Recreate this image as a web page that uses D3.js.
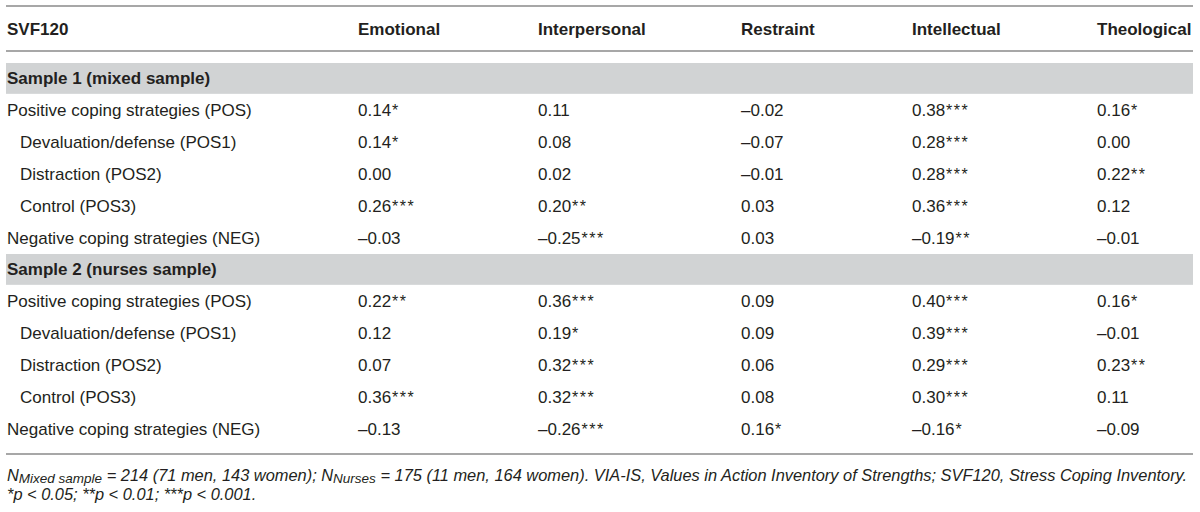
<!DOCTYPE html>
<html lang="en">
  <head>
    <meta charset="utf-8">
    <title>VIA-IS vs SVF120</title>
    <style>
      body { margin: 0; background: #fff; }
      svg text { font-family: "Liberation Sans", Arial, sans-serif; fill: #231f20; }
    </style>
  </head>
  <body>
    <svg class="table"></svg>

    <script src="https://d3js.org/d3.v7.min.js"></script>
    <script type="text/javascript">
      var columns = ["Emotional", "Interpersonal", "Restraint", "Intellectual", "Theological"];
      var rowLabels = ["Positive coping strategies (POS)", "Devaluation/defense (POS1)",
                       "Distraction (POS2)", "Control (POS3)", "Negative coping strategies (NEG)"];
      var indented = [false, true, true, true, false];
      var sampleNames = ["Sample 1 (mixed sample)", "Sample 2 (nurses sample)"];

      var sample1 = [
        [0.14, 0.11, -0.02, 0.38, 0.16],
        [0.14, 0.08, -0.07, 0.28, 0.00],
        [0.00, 0.02, -0.01, 0.28, 0.22],
        [0.26, 0.20, 0.03, 0.36, 0.12],
        [-0.03, -0.25, 0.03, -0.19, -0.01]
      ];
      var stars1 = [
        [1, 0, 0, 3, 1],
        [1, 0, 0, 3, 0],
        [0, 0, 0, 3, 2],
        [3, 2, 0, 3, 0],
        [0, 3, 0, 2, 0]
      ];
      var sample2 = [
        [0.22, 0.36, 0.09, 0.40, 0.16],
        [0.12, 0.19, 0.09, 0.39, -0.01],
        [0.07, 0.32, 0.06, 0.29, 0.23],
        [0.36, 0.32, 0.08, 0.30, 0.11],
        [-0.13, -0.26, 0.16, -0.16, -0.09]
      ];
      var stars2 = [
        [2, 3, 0, 3, 1],
        [0, 1, 0, 3, 0],
        [0, 3, 0, 3, 2],
        [3, 3, 0, 3, 0],
        [0, 3, 1, 1, 0]
      ];

      var w = 1200;
      var h = 512;
      var left = 6;
      var right = 1193;

      var svg = d3.select('.table')
                  .attr('width', w)
                  .attr('height', h);

      var fmt = d3.formatLocale({
        decimal: ".", thousands: ",", grouping: [3],
        currency: ["", ""], minus: "\u2013"
      }).format(".2f");

      // build row list: band, 5 rows, band, 5 rows
      var rows = [];
      [[sample1, stars1], [sample2, stars2]].forEach(function(s, si) {
        rows.push({ type: 'band', label: sampleNames[si] });
        s[0].forEach(function(vals, ri) {
          rows.push({ type: 'row', label: rowLabels[ri], indent: indented[ri],
                      vals: vals, stars: s[1][ri] });
        });
      });

      var y = d3.scaleBand()
                .domain(d3.range(rows.length))
                .range([62, 444]);

      var x = d3.scaleOrdinal()
                .domain(columns)
                .range([358, 538, 741, 912, 1097]);

      function hline(yy) {
        svg.append('line')
           .attr('x1', left).attr('x2', right)
           .attr('y1', yy).attr('y2', yy)
           .attr('stroke', '#8a8a8a')
           .attr('stroke-width', 1.6);
      }

      hline(6);
      hline(51);
      hline(454);

      // header
      svg.append('text')
         .attr('x', 7).attr('y', 35)
         .attr('font-size', 17).attr('font-weight', 'bold')
         .text('SVF120');

      svg.selectAll('text.col')
         .data(columns)
         .enter()
         .append('text')
         .attr('class', 'col')
         .attr('x', function(d) { return x(d); })
         .attr('y', 35)
         .attr('font-size', 17).attr('font-weight', 'bold')
         .text(function(d) { return d; });

      var g = svg.selectAll('g.row')
                 .data(rows)
                 .enter()
                 .append('g')
                 .attr('class', 'row')
                 .attr('transform', function(d, i) { return 'translate(0,' + y(i) + ')'; });

      g.filter(function(d) { return d.type === 'band'; })
       .append('rect')
       .attr('x', left).attr('y', 1)
       .attr('width', right - left)
       .attr('height', y.bandwidth() - 1)
       .attr('fill', '#d1d3d4');

      g.append('text')
       .attr('x', function(d) { return d.indent ? 20 : 7; })
       .attr('y', y.bandwidth() / 2 + 6.5)
       .attr('font-size', 17)
       .attr('font-weight', function(d) { return d.type === 'band' ? 'bold' : 'normal'; })
       .text(function(d) { return d.label; });

      var vals = g.filter(function(d) { return d.type === 'row'; })
       .selectAll('text.val')
       .data(function(d) {
         return d.vals.map(function(v, j) { return { col: columns[j], v: v, s: d.stars[j] }; });
       })
       .enter()
       .append('text')
       .attr('class', 'val')
       .attr('x', function(d) { return x(d.col); })
       .attr('y', y.bandwidth() / 2 + 6.5)
       .attr('font-size', 17);

      vals.append('tspan').text(function(d) { return fmt(d.v); });
      vals.append('tspan')
          .attr('font-size', 16)
          .attr('letter-spacing', 1.5)
          .attr('dx', 1)
          .text(function(d) { return '*'.repeat(d.s); });

      // footnote
      var fn = svg.append('text')
                  .attr('x', 7).attr('y', 481)
                  .attr('font-size', 16.4)
                  .attr('font-style', 'italic');
      fn.append('tspan').text('N');
      fn.append('tspan').attr('dy', 2).attr('font-size', 13.5).text('Mixed sample');
      fn.append('tspan').attr('dy', -2).text(' = 214 (71 men, 143 women); N');
      fn.append('tspan').attr('dy', 2).attr('font-size', 13.5).text('Nurses');
      fn.append('tspan').attr('dy', -2)
        .text(' = 175 (11 men, 164 women). VIA-IS, Values in Action Inventory of Strengths; SVF120, Stress Coping Inventory.');

      svg.append('text')
         .attr('x', 7).attr('y', 500)
         .attr('font-size', 16.4)
         .attr('font-style', 'italic')
         .text('*p < 0.05; **p < 0.01; ***p < 0.001.');
    </script>
  </body>
</html>
